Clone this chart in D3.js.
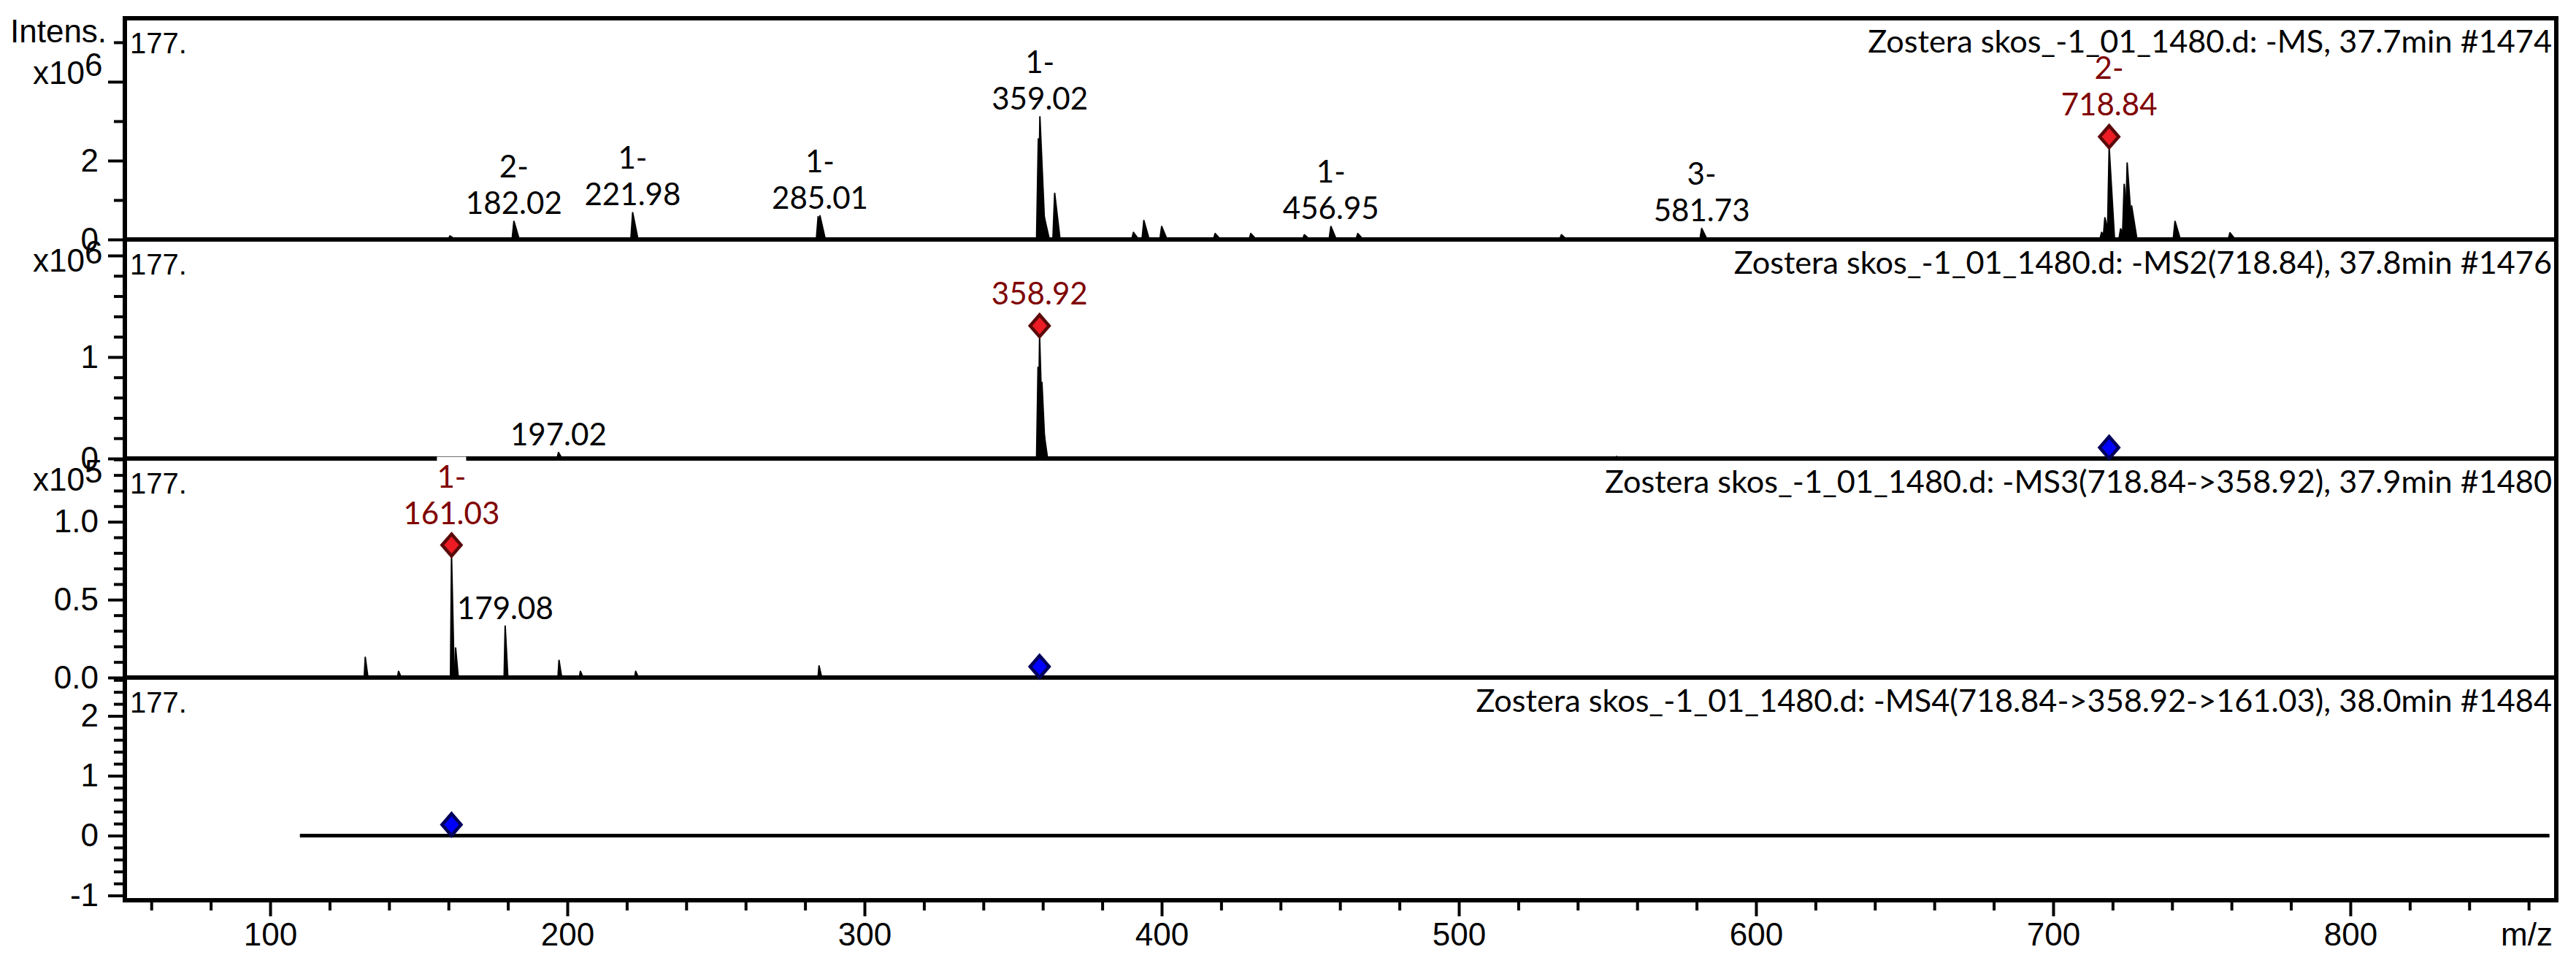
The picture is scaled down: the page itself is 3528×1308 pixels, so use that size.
<!DOCTYPE html>
<html><head><meta charset="utf-8">
<script src="https://cdn.jsdelivr.net/npm/d3@7"></script>
<style>body{margin:0;background:#fff}svg{display:block}</style>
</head><body>
<svg id="c" width="3528" height="1308"></svg>
<script>
// ---------------- DATA ----------------
const mzDomain = [51.1, 869.3];
const xMajorTicks = [100, 200, 300, 400, 500, 600, 700, 800];
const xMinorTicks = d3.range(60, 861, 20).filter(v => v % 100 !== 0);

const panelTitles = [
  "Zostera skos_-1_01_1480.d: -MS, 37.7min #1474",
  "Zostera skos_-1_01_1480.d: -MS2(718.84), 37.8min #1476",
  "Zostera skos_-1_01_1480.d: -MS3(718.84->358.92), 37.9min #1480",
  "Zostera skos_-1_01_1480.d: -MS4(718.84->358.92->161.03), 38.0min #1484"
];
const cornerLabel = "177.";
const precursorMz = [718.84, 358.92, 161.03];

// [m/z, intensity]
const ms1Peaks = [
  [160.5, 0.09e6], [182.02, 0.46e6], [221.98, 0.68e6], [284.4, 0.58e6], [285.01, 0.60e6],
  [358.5, 2.55e6], [359.02, 3.11e6], [360.4, 0.6e6], [364.0, 1.17e6],
  [390.5, 0.18e6], [394.0, 0.48e6], [400.0, 0.33e6], [418.0, 0.15e6], [430.0, 0.15e6],
  [448.0, 0.12e6], [456.95, 0.33e6], [466.0, 0.15e6], [534.5, 0.12e6], [581.73, 0.28e6],
  [716.3, 0.18e6], [717.4, 0.55e6], [718.84, 2.33e6], [722.7, 0.27e6], [723.9, 1.40e6],
  [724.9, 1.94e6], [726.4, 0.85e6], [741.0, 0.46e6], [759.5, 0.17e6]
];
const ms2Peaks = [
  [197.02, 0.06e6], [358.4, 0.9e6], [358.92, 1.20e6], [359.7, 0.75e6], [360.4, 0.25e6], [553.0, 0.02e6]
];
const ms3Peaks = [
  [132.0, 0.13e5], [143.2, 0.04e5], [161.03, 0.78e5], [162.4, 0.19e5], [179.08, 0.33e5],
  [197.2, 0.11e5], [204.4, 0.04e5], [223.0, 0.04e5], [284.7, 0.075e5]
];
const ms4Trace = [[110, 0], [867, 0]];

// [m/z, charge]
const ms1Labels = [[182.02, "2-"], [221.98, "1-"], [285.01, "1-"], [359.02, "1-"],
                   [456.95, "1-"], [581.73, "3-"], [718.84, "2-"]];
const ms2Labels = [[197.02, ""], [358.92, ""]];
const ms3Labels = [[161.03, "1-"], [179.08, ""]];

const yLabels1 = {ticks: [0, 2e6], text: ["0", "2"]};
const yLabels2 = {ticks: [0, 1e6], text: ["0", "1"]};
const yLabels3 = {ticks: [0, 0.5e5, 1e5], text: ["0.0", "0.5", "1.0"]};
const yLabels4 = {ticks: [-1, 0, 1, 2], text: ["-1", "0", "1", "2"]};

// ---------------- LAYOUT ----------------
const svg = d3.select("#c");
const L = 171, R = 3501;
const x = d3.scaleLinear().domain(mzDomain).range([L, R]);
const axisFont = "'Liberation Sans', Arial, sans-serif";
const annFont = "Lato, 'Open Sans', sans-serif";
const darkRed = "#7f0000";

const panels = [
  {title: panelTitles[0], peaks: ms1Peaks, labels: ms1Labels, top: 25, bottom: 328,
   y: d3.scaleLinear().domain([0, 5.61e6]).range([328, 25]),
   major: [0, 2e6, 4e6], minor: [1e6, 3e6, 5e6], yl: yLabels1, exp: "6", expY: 115,
   red: precursorMz[0], blue: null, wl: 0.6, wr: 1.8},
  {title: panelTitles[1], peaks: ms2Peaks, labels: ms2Labels, top: 328, bottom: 628,
   y: d3.scaleLinear().domain([0, 2.158e6]).range([628, 328]),
   major: [0, 1e6, 2e6], minor: d3.range(1, 11).map(i => i * 0.2e6).filter(v => Math.abs(v - 1e6) > 1 && Math.abs(v - 2e6) > 1),
   yl: yLabels2, exp: "6", expY: 372, red: precursorMz[1], blue: precursorMz[0], wl: 0.5, wr: 1.2},
  {title: panelTitles[2], peaks: ms3Peaks, labels: ms3Labels, top: 628, bottom: 928,
   y: d3.scaleLinear().domain([0, 1.406e5]).range([928, 628]),
   major: [0, 0.5e5, 1e5], minor: d3.range(1, 15).filter(i => i % 5).map(i => i * 0.1e5),
   yl: yLabels3, exp: "5", expY: 672, red: precursorMz[2], blue: precursorMz[1], wl: 0.35, wr: 0.9},
  {title: panelTitles[3], peaks: [], labels: [], top: 928, bottom: 1233,
   y: d3.scaleLinear().domain([-1.08, 2.64]).range([1233, 928]),
   major: [-1, 0, 1, 2], minor: d3.range(-4, 14).filter(i => i % 5).map(i => i * 0.2),
   yl: yLabels4, exp: null, red: null, blue: precursorMz[2]}
];

svg.append("rect").attr("width", 3528).attr("height", 1308).attr("fill", "#fff");

panels.forEach(p => {
  svg.append("rect").attr("x", L).attr("y", p.top).attr("width", R - L)
    .attr("height", p.bottom - p.top).attr("fill", "none")
    .attr("stroke", "#000").attr("stroke-width", 6);
});

function fitSize(txt, family, target, base) {
  const t = svg.append("text").style("font-family", family).style("font-size", base + "px").text(txt);
  const w = t.node().getComputedTextLength(); t.remove();
  return base * target / w;
}
const annSize = fitSize("359.02", annFont, 132, 42);
const titleSize = fitSize(panelTitles[0], annFont, 937, 40);

function diamond(g, cx, cy, fill, stroke) {
  g.append("path")
    .attr("d", `M${cx},${cy - 15}L${cx + 13},${cy}L${cx},${cy + 15}L${cx - 13},${cy}Z`)
    .attr("fill", fill).attr("stroke", stroke).attr("stroke-width", 4.5)
    .attr("stroke-linejoin", "miter");
}

const line = d3.line().x(d => x(d[0]));

panels.forEach((p, pi) => {
  const g = svg.append("g");
  const y = p.y;
  p.labels.forEach(([mz, z]) => {
    const pk = p.peaks.reduce((a, b) => Math.abs(b[0] - mz) < Math.abs(a[0] - mz) ? b : a);
    const isRed = p.red !== null && Math.abs(mz - p.red) < 0.01;
    const base = isRed ? y(pk[1]) - 15 - 29 : y(pk[1]) - 10;
    const col = isRed ? darkRed : "#000";
    const lines = z ? [[z, base - 50], [mz.toFixed(2), base]] : [[mz.toFixed(2), base]];
    lines.forEach(([s, yy]) => {
      const t = g.append("text").attr("x", x(mz)).attr("y", yy)
        .attr("text-anchor", "middle").style("font-family", annFont)
        .style("font-size", annSize + "px").attr("fill", col).text(s);
      const bb = t.node().getBBox();
      g.insert("rect", "text").attr("x", bb.x).attr("y", bb.y)
        .attr("width", bb.width).attr("height", bb.height).attr("fill", "#fff");
    });
  });
  g.append("text").attr("x", 3495).attr("y", p.top + 47).attr("text-anchor", "end")
    .style("font-family", annFont).style("font-size", titleSize + "px").text(p.title);
  g.append("text").attr("x", 178).attr("y", p.top + 48)
    .style("font-family", axisFont).style("font-size", "40px").text(cornerLabel);
  const ly = line.y(d => y(d[1]));
  p.peaks.forEach(([mz, v]) => {
    g.append("path").attr("d", ly([[mz - p.wl, 0], [mz, v], [mz + p.wr, 0]]))
      .attr("fill", "#000").attr("stroke", "#000").attr("stroke-width", 2)
      .attr("stroke-linejoin", "round");
  });
  if (pi === 3) {
    g.append("path").attr("d", ly(ms4Trace)).attr("stroke", "#000")
      .attr("stroke-width", 5).attr("fill", "none");
  }
  if (p.red !== null) {
    const pk = p.peaks.reduce((a, b) => Math.abs(b[0] - p.red) < Math.abs(a[0] - p.red) ? b : a);
    diamond(g, x(p.red), y(pk[1]) - 15, "#ed1c24", "#5a0a0a");
  }
  if (p.blue !== null) diamond(g, x(p.blue), y(0) - 15, "#0000ff", "#00005a");

  const minorAx = d3.axisLeft(y).tickValues(p.minor).tickSize(15).tickFormat("");
  const majorAx = d3.axisLeft(y).tickValues(p.major).tickSize(23).tickPadding(13)
    .tickFormat(v => { const i = p.yl.ticks.findIndex(t => Math.abs(t - v) < 1e-9); return i >= 0 ? p.yl.text[i] : ""; });
  [minorAx, majorAx].forEach(ax => {
    const a = svg.append("g").attr("transform", `translate(${L},0)`).call(ax);
    a.select(".domain").remove();
    a.selectAll("line").attr("stroke", "#000").attr("stroke-width", 4);
    a.selectAll("text").style("font-family", axisFont).style("font-size", "44px").attr("fill", "#000");
  });
  if (p.exp) {
    const t = svg.append("text").attr("x", 45).attr("y", p.expY)
      .style("font-family", axisFont).style("font-size", "44px");
    t.append("tspan").text("x10");
    t.append("tspan").attr("dy", -11).text(p.exp);
  }
});

const xMinor = d3.axisBottom(x).tickValues(xMinorTicks).tickSize(14).tickFormat("");
const xMajor = d3.axisBottom(x).tickValues(xMajorTicks).tickSize(22).tickPadding(9);
[xMinor, xMajor].forEach(ax => {
  const a = svg.append("g").attr("transform", `translate(0,1233)`).call(ax);
  a.select(".domain").remove();
  a.selectAll("line").attr("stroke", "#000").attr("stroke-width", 4);
  a.selectAll("text").style("font-family", axisFont).style("font-size", "44px").attr("fill", "#000");
});
svg.append("text").attr("x", 3496).attr("y", 1295).attr("text-anchor", "end")
  .style("font-family", axisFont).style("font-size", "44px").text("m/z");
svg.append("text").attr("x", 14).attr("y", 58)
  .style("font-family", axisFont).style("font-size", "44px").text("Intens.");
</script>
</body></html>
